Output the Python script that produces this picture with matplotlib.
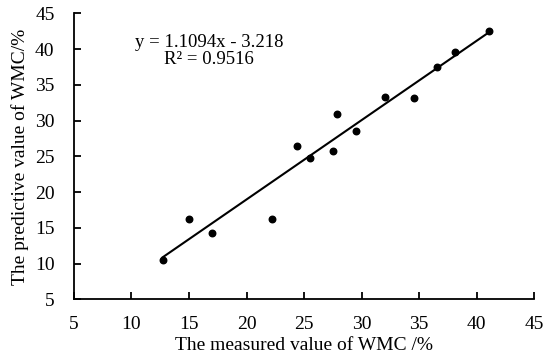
import numpy as np
import matplotlib.pyplot as plt

# Измеренные и предсказанные значения WMC, %
measured = [12.7, 15.0, 17.0, 22.2, 24.4, 25.5, 27.5, 27.9, 29.5, 32.0, 34.6, 36.6, 38.1, 41.1]
predicted = [10.5, 16.3, 14.3, 16.3, 26.4, 24.8, 25.8, 30.9, 28.6, 33.3, 33.2, 37.5, 39.6, 42.6]
slope, intercept = 1.1094, -3.218
r2 = 0.9516

plt.rcParams['font.family'] = ['Liberation Serif', 'DejaVu Serif']

fig = plt.figure(figsize=(5.5, 3.62), dpi=100)
ax = fig.add_axes([0.1345, 0.173, 0.8365, 0.79])

ax.scatter(measured, predicted, s=22, color='black', zorder=3)

# Линия тренда по диапазону данных
xs = np.array([min(measured), max(measured)])
ax.plot(xs, slope * xs + intercept, color='black', lw=1.5)

ax.text(0.293, 0.868, f'y = {slope}x - {abs(intercept)}\nR² = {r2}',
        transform=ax.transAxes, ha='center', va='center', fontsize=13.5,
        linespacing=1.05)

ax.set_xlim(5, 45)
ax.set_ylim(5, 45)
ax.set_xticks(range(5, 46, 5))
ax.set_yticks(range(5, 46, 5))
ax.tick_params(direction='in', length=5, width=1.3, labelsize=14)
ax.tick_params(axis='x', pad=12)
ax.tick_params(axis='y', pad=14)
for s in ['top', 'right']:
    ax.spines[s].set_visible(False)
for s in ['left', 'bottom']:
    ax.spines[s].set_linewidth(1.3)

ax.set_xlabel('The measured value of WMC /%', fontsize=14, labelpad=3)
ax.set_ylabel('The predictive value of WMC/%', fontsize=14, labelpad=4)

fig.savefig('out.png', dpi=100)
